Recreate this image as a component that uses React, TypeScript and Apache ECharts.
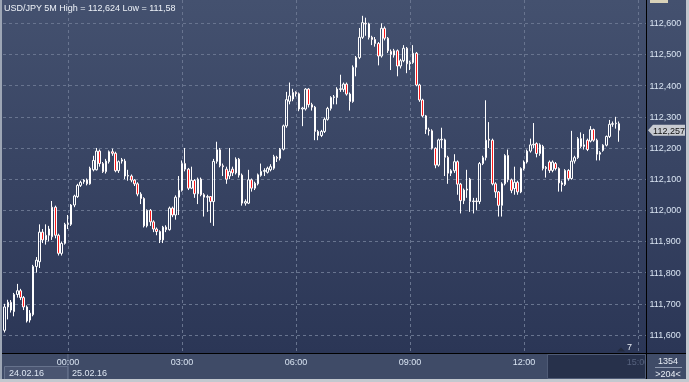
import React, { useEffect, useRef } from 'react';
import * as echarts from 'echarts';

// ---- data ----
const startHour = 22;
const startMinute = 20;
const barMinutes = 5;
const categoryCount = 203;

const times: string[] = [];
for (let i = 0; i < categoryCount; i++) {
  const m = (startHour * 60 + startMinute + i * barMinutes) % 1440;
  times.push(`${String(Math.floor(m / 60)).padStart(2, '0')}:${String(m % 60).padStart(2, '0')}`);
}

const majorTimes = ['00:00', '03:00', '06:00', '09:00', '12:00', '15:00'];
const dimTime = '15:00';
const dayBreak = '00:00';
const dateLabels = ['24.02.16', '25.02.16'];

const yMin = 111.6;
const yMax = 112.6;
const yStep = 0.1;

// [open, close, low, high]
const candles: number[][] = [
  [111.615, 111.690, 111.608, 111.700],
  [111.690, 111.705, 111.650, 111.713],
  [111.705, 111.680, 111.672, 111.712],
  [111.675, 111.730, 111.660, 111.735],
  [111.730, 111.742, 111.720, 111.764],
  [111.742, 111.720, 111.712, 111.748],
  [111.720, 111.690, 111.680, 111.725],
  [111.690, 111.645, 111.640, 111.695],
  [111.648, 111.670, 111.640, 111.680],
  [111.665, 111.820, 111.660, 111.825],
  [111.820, 111.840, 111.800, 111.850],
  [111.835, 111.930, 111.815, 111.955],
  [111.930, 111.905, 111.895, 111.940],
  [111.905, 111.920, 111.890, 111.955],
  [111.920, 111.940, 111.900, 111.950],
  [111.915, 112.010, 111.905, 112.030],
  [112.010, 111.920, 111.910, 112.015],
  [111.920, 111.862, 111.855, 111.925],
  [111.862, 111.894, 111.855, 111.900],
  [111.894, 111.955, 111.890, 111.960],
  [111.955, 111.958, 111.940, 111.985],
  [111.955, 112.017, 111.950, 112.020],
  [112.017, 112.046, 112.010, 112.050],
  [112.044, 112.080, 112.040, 112.085],
  [112.080, 112.090, 112.075, 112.095],
  [112.092, 112.097, 112.085, 112.100],
  [112.097, 112.085, 112.080, 112.102],
  [112.085, 112.135, 112.082, 112.140],
  [112.130, 112.160, 112.125, 112.175],
  [112.130, 112.190, 112.128, 112.200],
  [112.190, 112.150, 112.140, 112.195],
  [112.150, 112.124, 112.120, 112.155],
  [112.124, 112.158, 112.118, 112.165],
  [112.156, 112.188, 112.150, 112.192],
  [112.188, 112.183, 112.175, 112.198],
  [112.183, 112.127, 112.122, 112.188],
  [112.127, 112.156, 112.120, 112.160],
  [112.158, 112.162, 112.150, 112.168],
  [112.158, 112.110, 112.100, 112.165],
  [112.110, 112.112, 112.095, 112.130],
  [112.110, 112.097, 112.090, 112.115],
  [112.097, 112.085, 112.078, 112.100],
  [112.085, 112.052, 112.045, 112.090],
  [112.052, 112.038, 112.020, 112.058],
  [112.038, 111.950, 111.945, 112.042],
  [111.950, 112.000, 111.945, 112.003],
  [112.000, 111.963, 111.950, 112.004],
  [111.963, 111.940, 111.930, 111.968],
  [111.940, 111.932, 111.920, 111.945],
  [111.932, 111.905, 111.895, 111.936],
  [111.905, 111.946, 111.895, 111.950],
  [111.946, 111.938, 111.930, 111.952],
  [111.938, 112.007, 111.935, 112.012],
  [112.007, 111.985, 111.978, 112.012],
  [111.985, 112.042, 111.970, 112.048],
  [112.042, 112.064, 111.985, 112.110],
  [112.064, 112.150, 112.060, 112.160],
  [112.150, 112.132, 112.125, 112.200],
  [112.132, 112.071, 112.065, 112.136],
  [112.071, 112.096, 112.068, 112.140],
  [112.096, 112.053, 112.040, 112.100],
  [112.053, 112.100, 112.020, 112.105],
  [112.100, 112.050, 112.045, 112.105],
  [112.050, 112.042, 111.980, 112.055],
  [112.042, 112.044, 111.995, 112.050],
  [112.044, 112.028, 111.960, 112.046],
  [112.028, 112.157, 111.950, 112.165],
  [112.157, 112.194, 112.150, 112.220],
  [112.194, 112.143, 112.138, 112.200],
  [112.143, 112.140, 112.110, 112.150],
  [112.132, 112.100, 112.085, 112.140],
  [112.110, 112.125, 112.100, 112.200],
  [112.132, 112.120, 112.110, 112.140],
  [112.120, 112.164, 112.115, 112.170],
  [112.164, 112.113, 112.105, 112.168],
  [112.113, 112.023, 112.015, 112.118],
  [112.023, 112.028, 112.015, 112.035],
  [112.023, 112.098, 112.020, 112.130],
  [112.098, 112.071, 112.060, 112.102],
  [112.071, 112.087, 112.065, 112.092],
  [112.085, 112.114, 112.080, 112.118],
  [112.112, 112.125, 112.108, 112.150],
  [112.125, 112.128, 112.110, 112.135],
  [112.122, 112.135, 112.118, 112.140],
  [112.130, 112.140, 112.125, 112.148],
  [112.135, 112.172, 112.130, 112.178],
  [112.170, 112.167, 112.155, 112.175],
  [112.167, 112.196, 112.160, 112.200],
  [112.196, 112.271, 112.192, 112.275],
  [112.271, 112.355, 112.265, 112.380],
  [112.350, 112.367, 112.340, 112.410],
  [112.357, 112.378, 112.350, 112.390],
  [112.378, 112.374, 112.365, 112.382],
  [112.374, 112.325, 112.318, 112.378],
  [112.325, 112.328, 112.270, 112.332],
  [112.325, 112.389, 112.320, 112.392],
  [112.389, 112.339, 112.330, 112.392],
  [112.339, 112.331, 112.320, 112.345],
  [112.331, 112.253, 112.225, 112.335],
  [112.253, 112.240, 112.225, 112.258],
  [112.240, 112.253, 112.235, 112.258],
  [112.253, 112.292, 112.248, 112.298],
  [112.292, 112.327, 112.288, 112.332],
  [112.327, 112.362, 112.320, 112.366],
  [112.362, 112.364, 112.340, 112.370],
  [112.362, 112.389, 112.340, 112.395],
  [112.388, 112.390, 112.380, 112.435],
  [112.388, 112.405, 112.380, 112.410],
  [112.405, 112.373, 112.368, 112.410],
  [112.373, 112.349, 112.320, 112.378],
  [112.349, 112.459, 112.345, 112.465],
  [112.459, 112.490, 112.430, 112.495],
  [112.490, 112.555, 112.485, 112.585],
  [112.555, 112.602, 112.550, 112.624],
  [112.600, 112.598, 112.560, 112.618],
  [112.598, 112.555, 112.548, 112.602],
  [112.555, 112.548, 112.530, 112.560],
  [112.548, 112.535, 112.525, 112.556],
  [112.535, 112.495, 112.465, 112.540],
  [112.495, 112.584, 112.490, 112.600],
  [112.584, 112.552, 112.545, 112.590],
  [112.552, 112.512, 112.505, 112.556],
  [112.510, 112.500, 112.450, 112.516],
  [112.512, 112.498, 112.490, 112.518],
  [112.512, 112.463, 112.430, 112.516],
  [112.463, 112.480, 112.455, 112.486],
  [112.480, 112.520, 112.475, 112.530],
  [112.520, 112.470, 112.440, 112.524],
  [112.470, 112.474, 112.450, 112.480],
  [112.474, 112.504, 112.470, 112.530],
  [112.504, 112.402, 112.398, 112.508],
  [112.402, 112.354, 112.348, 112.406],
  [112.354, 112.303, 112.298, 112.358],
  [112.303, 112.260, 112.245, 112.306],
  [112.258, 112.255, 112.240, 112.265],
  [112.255, 112.199, 112.195, 112.260],
  [112.199, 112.145, 112.135, 112.202],
  [112.145, 112.226, 112.140, 112.230],
  [112.226, 112.228, 112.200, 112.265],
  [112.226, 112.170, 112.110, 112.230],
  [112.170, 112.119, 112.085, 112.175],
  [112.119, 112.127, 112.110, 112.132],
  [112.127, 112.156, 112.120, 112.180],
  [112.156, 112.084, 112.050, 112.160],
  [112.084, 112.031, 111.990, 112.088],
  [112.031, 112.065, 112.020, 112.070],
  [112.065, 112.068, 112.040, 112.130],
  [112.100, 112.028, 111.995, 112.104],
  [112.028, 112.030, 111.990, 112.040],
  [112.030, 112.028, 112.000, 112.040],
  [112.028, 112.150, 112.020, 112.155],
  [112.150, 112.169, 112.145, 112.175],
  [112.169, 112.225, 112.160, 112.353],
  [112.228, 112.225, 112.200, 112.283],
  [112.225, 112.085, 112.080, 112.230],
  [112.085, 112.059, 112.040, 112.090],
  [112.059, 112.016, 111.980, 112.062],
  [112.016, 112.085, 111.980, 112.090],
  [112.085, 112.176, 112.080, 112.180],
  [112.176, 112.098, 112.090, 112.195],
  [112.098, 112.064, 112.055, 112.102],
  [112.070, 112.090, 112.050, 112.140],
  [112.090, 112.059, 112.050, 112.095],
  [112.059, 112.134, 112.055, 112.138],
  [112.134, 112.155, 112.128, 112.160],
  [112.155, 112.190, 112.150, 112.195],
  [112.190, 112.210, 112.185, 112.230],
  [112.210, 112.212, 112.200, 112.280],
  [112.214, 112.182, 112.170, 112.218],
  [112.182, 112.210, 112.175, 112.215],
  [112.205, 112.134, 112.128, 112.210],
  [112.134, 112.138, 112.105, 112.142],
  [112.155, 112.128, 112.120, 112.160],
  [112.128, 112.155, 112.122, 112.160],
  [112.150, 112.134, 112.128, 112.155],
  [112.134, 112.088, 112.060, 112.138],
  [112.088, 112.083, 112.060, 112.095],
  [112.083, 112.128, 112.078, 112.132],
  [112.128, 112.102, 112.095, 112.132],
  [112.102, 112.158, 112.098, 112.255],
  [112.158, 112.169, 112.150, 112.175],
  [112.169, 112.230, 112.165, 112.235],
  [112.230, 112.205, 112.200, 112.250],
  [112.205, 112.210, 112.195, 112.245],
  [112.225, 112.195, 112.190, 112.230],
  [112.222, 112.259, 112.218, 112.270],
  [112.259, 112.225, 112.220, 112.262],
  [112.225, 112.180, 112.160, 112.230],
  [112.180, 112.185, 112.160, 112.190],
  [112.192, 112.209, 112.188, 112.212],
  [112.209, 112.237, 112.205, 112.240],
  [112.237, 112.276, 112.232, 112.290],
  [112.276, 112.278, 112.268, 112.285],
  [112.278, 112.280, 112.262, 112.300],
  [112.278, 112.257, 112.220, 112.285],
];

const titleText = 'USD/JPY 5M High = 112,624 Low = 111,58';
const barTotalText = '1354';
const barShownText = '>204<';
const markerText = '7';

const FONT = 'Liberation Sans, Arial, sans-serif';
const fmt = (v: number) => v.toFixed(3).replace('.', ',');

export default function App() {
  const ref = useRef<HTMLDivElement>(null);
  useEffect(() => {
    const el = ref.current!;
    const chart = echarts.init(el, undefined, { renderer: 'svg' });
    const isMajor = (_i: number, v: string) => majorTimes.indexOf(v) >= 0;
    const gridColor = '#68748f';
    chart.setOption({
      animation: false,
      grid: [
        { left: 3, right: 43, top: 23.3, bottom: 47 },
        { left: 3, right: 43, top: 0, bottom: 28.5 },
      ],
      xAxis: [
        {
          type: 'category', gridIndex: 0, data: times,
          axisLine: { show: false }, axisTick: { show: false },
          axisLabel: { show: false }, splitLine: { show: false },
        },
        {
          type: 'category', gridIndex: 1, data: times, position: 'bottom',
          axisLine: { show: false },
          axisTick: { show: false, alignWithLabel: true, interval: isMajor },
          axisLabel: {
            interval: isMajor, margin: 4, fontSize: 9, fontFamily: FONT,
            color: (v: string) => (v === dimTime ? '#56627e' : '#d9e4f2'),
          },
          splitLine: {
            show: true, interval: isMajor, alignWithLabel: true,
            lineStyle: { color: gridColor, type: [3, 3], width: 1 },
          },
        },
      ],
      yAxis: [
        {
          type: 'value', gridIndex: 0, position: 'right',
          min: yMin, max: yMax, interval: yStep,
          axisLine: { show: false }, axisTick: { show: false },
          axisLabel: { margin: 3.5, fontSize: 9, fontFamily: FONT, color: '#d9e4f2', formatter: (v: number) => fmt(v) },
          splitLine: { show: true, lineStyle: { color: gridColor, type: [3, 3], width: 1 } },
        },
        { type: 'value', gridIndex: 1, min: 0, max: 1, show: false },
      ],
      series: [
        {
          type: 'candlestick', xAxisIndex: 0, yAxisIndex: 0,
          data: candles, barWidth: 2, clip: false,
          itemStyle: {
            color: 'rgba(0,0,0,0)', color0: '#ff1a1a',
            borderColor: '#ffffff', borderColor0: '#ffffff', borderWidth: 1,
          },
        },
      ],
    });

    const dayX = chart.convertToPixel({ xAxisIndex: 1 } as any, dayBreak) as number;
    const last = candles[candles.length - 1][1];
    const tagY = chart.convertToPixel({ yAxisIndex: 0 } as any, last) as number;

    const txt = (id: string, x: number, y: number, text: string, fill: string, align = 'left', z = 60) => ({
      type: 'text', id, x, y, z, silent: true,
      style: { text, fill, font: `9px ${FONT}`, textAlign: align, textVerticalAlign: 'middle', align, verticalAlign: 'middle' },
    });
    const rect = (id: string, x: number, y: number, w: number, h: number, fill: string, z: number, stroke?: string) => ({
      type: 'rect', id, z, silent: true, shape: { x, y, width: w, height: h },
      style: stroke ? { fill, stroke, lineWidth: 1 } : { fill },
    });

    chart.setOption({
      graphic: [
        {
          type: 'rect', id: 'bg', z: -10, silent: true,
          shape: { x: 0, y: 0, width: 686, height: 353 },
          style: {
            fill: new echarts.graphic.LinearGradient(0, 0, 0, 1, [
              { offset: 0, color: '#44516f' },
              { offset: 1, color: '#2b3656' },
            ]),
          },
        },
        rect('strip', 2, 354, 644, 25, '#3f4b67', -10),
        rect('dark', 547.5, 354.5, 98, 24, '#27314b', -9, '#4f5b76'),
        rect('datebox', 4.5, 366.5, dayX - 4.5, 13, '#4a5571', -9, '#66728c'),
        { type: 'line', id: 'daysep', z: -9, silent: true, shape: { x1: dayX, y1: 354, x2: dayX, y2: 379 }, style: { stroke: '#66728c', lineWidth: 1 } },
        txt('d1', 9, 373, dateLabels[0], '#dde6f2', 'left', 5),
        txt('d2', dayX + 4, 373, dateLabels[1], '#dde6f2', 'left', 5),
        rect('rpanel', 647, 354, 39, 25, '#3f4b67', 50),
        rect('vline', 646, 0, 1, 379, '#000000', 51),
        rect('hline', 0, 353, 686, 1, '#000000', 51),
        rect('bleft', 0, 0, 2, 382, '#9da6b5', 60),
        rect('bright', 686, 0, 3, 382, '#c3c8cf', 60),
        rect('bbottom', 0, 379, 689, 3, '#c3c8cf', 60),
        rect('toptab', 650, 0, 18, 3, '#d9d2b9', 60),
        txt('n1', 668, 361, barTotalText, '#e8edf5', 'center', 61),
        { type: 'line', id: 'nsep', z: 61, silent: true, shape: { x1: 655, y1: 367.5, x2: 682, y2: 367.5 }, style: { stroke: '#8f9ab0', lineWidth: 1 } },
        txt('n2', 668, 374, barShownText, '#e8edf5', 'center', 61),
        txt('title', 4, 8, titleText, '#eef2f8', 'left', 60),
        {
          type: 'polygon', id: 'tag', z: 60, silent: true,
          shape: { points: [[648, tagY], [653, tagY - 5.5], [685, tagY - 5.5], [685, tagY + 5.5], [653, tagY + 5.5]] },
          style: { fill: '#c8cbd1' },
        },
        txt('tagtxt', 669, tagY + 0.5, fmt(last), '#111111', 'center', 61),
        {
          type: 'polygon', id: 'mk', z: 5, silent: true,
          shape: { points: [[617, 351.5], [621, 347.5], [625, 351.5]] },
          style: { fill: '#232b3e' },
        },
        txt('mktxt', 627, 347, markerText, '#e8edf5', 'left', 5),
      ],
    });

    return () => chart.dispose();
  }, []);
  return <div ref={ref} style={{ position: 'fixed', left: 0, top: 0, width: 689, height: 382 }} />;
}
